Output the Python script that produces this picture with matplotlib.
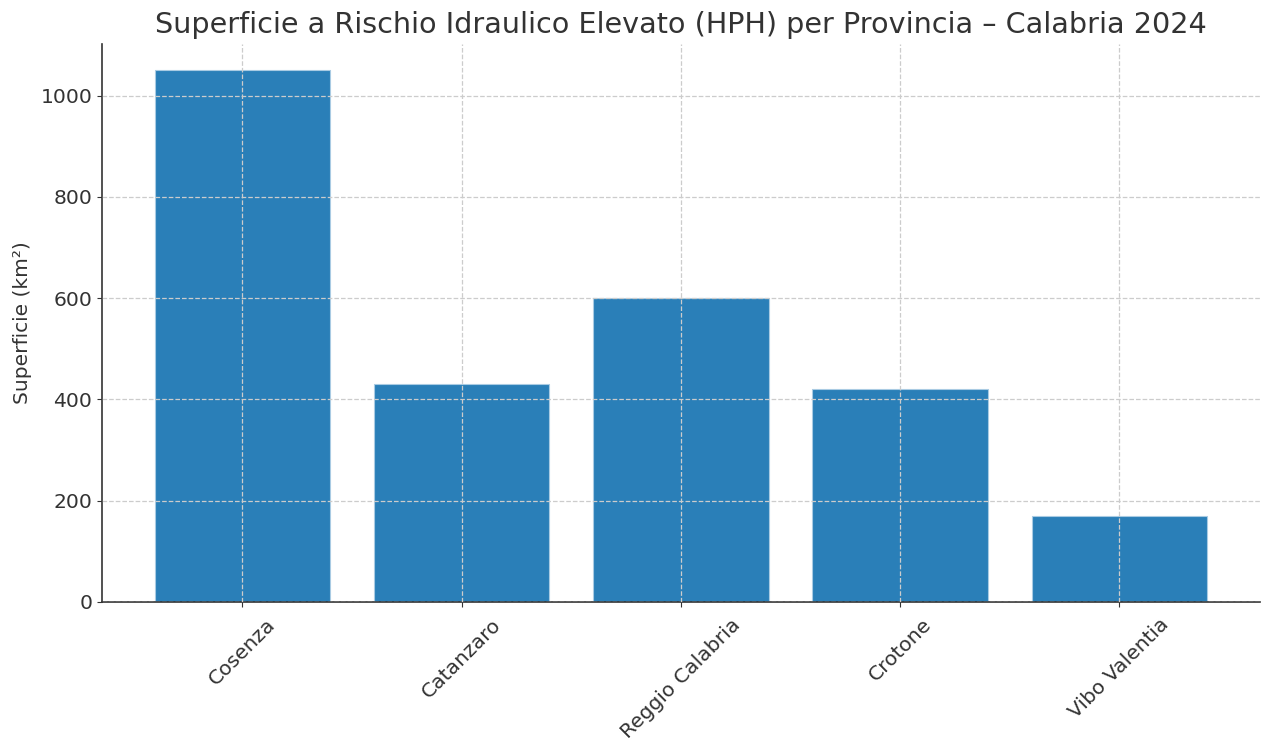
import matplotlib
matplotlib.use("Agg")
import matplotlib.pyplot as plt

# dati
province = ["Cosenza", "Catanzaro", "Reggio Calabria", "Crotone", "Vibo Valentia"]
superficie = [1050, 430, 600, 420, 170]

fig = plt.figure(figsize=(12.61, 7.42), dpi=100)
ax = fig.add_axes([0.081, 0.189, 0.918, 0.752])

ax.bar(province, superficie, color="#2a7fb8", edgecolor="#a9cbe3", linewidth=0.8, width=0.8)

ax.set_title("Superficie a Rischio Idraulico Elevato (HPH) per Provincia – Calabria 2024",
             fontsize=20.6, color="#333333", pad=8)
ax.set_ylabel("Superficie (km²)", fontsize=14.5, color="#333333", labelpad=6)
ax.grid(True, linestyle="--", color="#cccccc", linewidth=0.9)
ax.set_axisbelow(False)
ax.tick_params(axis="both", labelsize=14.6, colors="#333333")
ax.tick_params(axis="x", pad=6)
plt.setp(ax.get_xticklabels(), rotation=45)
for s in ["top", "right"]:
    ax.spines[s].set_visible(False)
for s in ["left", "bottom"]:
    ax.spines[s].set_color("#333333")
    ax.spines[s].set_linewidth(1.2)

fig.savefig("out.png", dpi=100)
